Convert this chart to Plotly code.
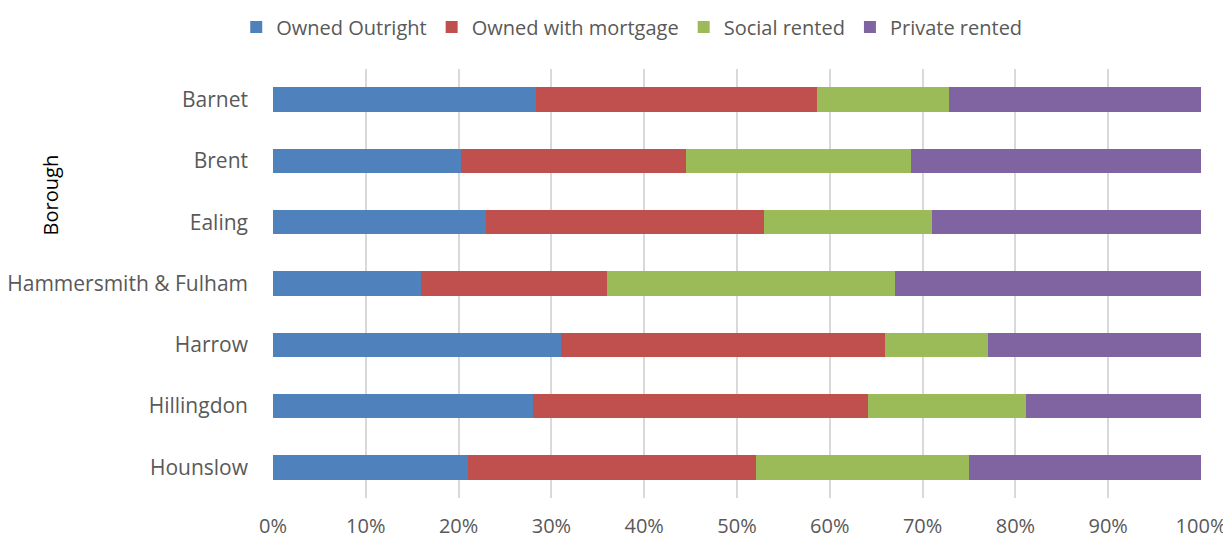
import plotly.graph_objects as go

boroughs = ["Barnet", "Brent", "Ealing", "Hammersmith & Fulham", "Harrow", "Hillingdon", "Hounslow"]

owned_outright = [28.3, 20.3, 22.9, 16.0, 31.0, 28.0, 21.0]
owned_mortgage = [30.3, 24.2, 30.0, 20.0, 35.0, 36.1, 31.0]
social_rented = [14.2, 24.25, 18.1, 31.0, 11.0, 17.0, 23.0]
private_rented = [27.2, 31.25, 29.0, 33.0, 23.0, 18.9, 25.0]

series = [
    ("Owned Outright", owned_outright, "#4F81BD"),
    ("Owned with mortgage", owned_mortgage, "#C0504D"),
    ("Social rented", social_rented, "#9BBB59"),
    ("Private rented", private_rented, "#8064A2"),
]

fig = go.Figure()
for name, vals, color in series:
    fig.add_trace(go.Bar(y=boroughs, x=vals, name=name, orientation="h",
                         marker=dict(color=color, line=dict(width=0))))

# page body has an 8px margin, so the figure is sized/offset to fill the window
fig.update_layout(
    barmode="stack",
    bargap=0.6,
    width=1223, height=530,
    margin=dict(l=265, r=30, t=61, b=40, autoexpand=False),
    plot_bgcolor="white", paper_bgcolor="white",
    font=dict(family="Open Sans", size=20, color="#595959"),
    legend=dict(orientation="h", xref="container", yref="container",
                x=0.51, xanchor="center", y=0.964, yanchor="middle",
                font=dict(size=20), itemwidth=30, traceorder="normal"),
    annotations=[dict(text="Borough", textangle=-90, xref="paper", yref="paper",
                      x=-0.24, y=0.706, xanchor="center", yanchor="middle",
                      showarrow=False, font=dict(size=20, color="#000000"))],
)
fig.update_xaxes(range=[0, 100], dtick=10, ticksuffix="%", showgrid=True,
                 gridcolor="#D9D9D9", gridwidth=1.5, zeroline=False, ticks="",
                 ticklabelstandoff=14, automargin=False)
fig.update_yaxes(autorange="reversed", showgrid=False, ticks="",
                 ticklabelstandoff=24, automargin=False, tickfont=dict(size=21))

fig.write_html("out.html")
